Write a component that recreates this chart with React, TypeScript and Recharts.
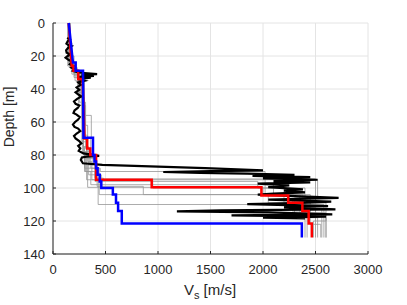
import { LineChart, Line, XAxis, YAxis, CartesianGrid } from 'recharts';

// Vs profiles vs depth
const xTicks = [0, 500, 1000, 1500, 2000, 2500, 3000];
const yTicks = [0, 20, 40, 60, 80, 100, 120, 140];
const bottomDepth = 130;

// [Vs m/s, depth m]
const bluePts = [
  [150, 0], [190, 24], [216, 24], [216, 29], [286, 29], [290, 69.5], [381, 69.5], [381, 80],
  [395, 80], [395, 84], [410, 84], [410, 88], [425, 88], [425, 92], [445, 92], [445, 96],
  [460, 96], [460, 100], [570, 100], [570, 104], [600, 104], [600, 109], [620, 109], [620, 114],
  [655, 114], [655, 121.5], [2370, 121.5], [2370, 130],
];

const redPts = [
  [150, 0], [178, 26], [195, 26], [195, 29], [240, 29], [240, 34], [282, 34], [300, 70],
  [325, 70], [325, 76], [355, 76], [355, 80], [410, 80], [410, 95], [940, 95], [940, 99.6],
  [1985, 99.6], [1985, 104.5], [2240, 104.5], [2240, 109], [2375, 109], [2375, 114],
  [2435, 114], [2435, 121.5], [2465, 121.5], [2465, 130],
];

const blackPts = [
  [135, 9], [160, 10], [140, 11], [128, 12.5], [150, 13.5], [175, 14], [145, 15], [125, 16.5],
  [130, 18], [165, 19], [140, 20], [120, 21], [150, 22.5], [185, 23.5], [160, 25], [195, 26],
  [175, 27], [210, 28], [190, 29], [240, 30], [420, 31], [270, 31.5], [390, 32], [250, 32.6],
  [360, 33.2], [240, 34], [300, 35], [240, 36], [265, 37.5], [225, 39], [250, 40.5], [215, 42],
  [245, 43.5], [270, 44.5], [230, 46], [200, 47.5], [215, 49], [250, 50], [235, 51.5], [205, 53],
  [195, 54.5], [225, 55.5], [255, 57], [240, 58.5], [210, 60], [190, 61.5], [205, 63], [240, 64],
  [260, 65.5], [225, 67], [200, 68.5], [215, 70], [250, 71.5], [270, 73], [240, 74.5], [260, 76],
  [245, 77.5], [290, 79], [440, 80.5], [320, 81], [275, 81.5], [265, 83], [285, 85],
  [470, 86], [1000, 87], [1450, 88], [2000, 89.3], [1500, 89.8], [1050, 90.3], [1400, 90.8],
  [1850, 91.3], [2300, 92], [1900, 92.6], [2450, 93.4], [2000, 94.2], [2520, 95], [2100, 95.8],
  [2450, 96.6], [1950, 97.4], [2250, 98.4], [2050, 99.5], [2380, 100.8], [2200, 101.6],
  [2400, 102.6], [2100, 103.4], [1950, 104], [2720, 106], [2350, 106.6], [2050, 107],
  [2650, 108.3], [2300, 109.2], [1850, 109.8], [2620, 111], [2200, 111.8], [2690, 113],
  [1600, 113.6], [1180, 114.2], [2050, 114.8], [2660, 116], [1700, 116.6], [2600, 117.3],
  [2000, 117.9], [2400, 118.5],
];

// gray layered models: [Vs, layer top depth]
const gray1 = [[150, 0], [195, 24], [250, 29], [285, 36], [300, 55], [360, 70], [450, 88], [2020, 90], [2380, 104], [2500, 112]];
const gray2 = [[160, 0], [180, 12], [230, 27], [270, 34], [310, 50], [330, 62], [300, 75], [400, 82], [480, 94], [2520, 95], [2300, 106], [2420, 118]];
const gray3 = [[140, 0], [200, 26], [260, 31], [300, 45], [365, 56], [320, 70], [380, 80], [330, 86], [2000, 99.6], [2250, 104], [2580, 110]];
const gray4 = [[155, 0], [175, 18], [215, 25], [280, 30], [290, 65], [350, 78], [420, 85], [860, 99], [2350, 104], [2600, 115]];
const gray5 = [[150, 0], [190, 22], [240, 30], [275, 40], [320, 72], [300, 80], [400, 90], [1950, 96], [2200, 100], [2450, 109], [2550, 122]];
const gray6 = [[145, 0], [170, 15], [210, 28], [300, 35], [285, 60], [340, 75], [460, 92], [2500, 94.5], [2280, 108], [2400, 114]];
const gray7 = [[165, 0], [200, 20], [250, 33], [310, 48], [300, 76], [440, 88], [2050, 104], [2600, 109], [2480, 120]];
const gray8 = [[150, 0], [185, 25], [235, 28], [290, 42], [330, 68], [370, 84], [950, 95], [2400, 100], [2300, 112], [2520, 118]];
const gray9 = [[145, 0], [180, 20], [245, 31], [280, 50], [310, 78], [360, 90], [2100, 98], [2450, 104], [2600, 116]];
const gray10 = [[155, 0], [205, 27], [275, 32], [300, 58], [290, 70], [320, 80], [430, 95], [2260, 110], [2560, 113]];

const grays = [gray1, gray2, gray3, gray4, gray5, gray6, gray7, gray8, gray9, gray10];

const toPoints = (pts: number[][]) => pts.map(([v, d]) => ({ v, d }));

const toSteps = (layers: number[][]) => {
  const out: { v: number; d: number }[] = [];
  layers.forEach(([v, top], i) => {
    const bot = i < layers.length - 1 ? layers[i + 1][1] : bottomDepth;
    out.push({ v, d: top }, { v, d: bot });
  });
  return out;
};

const FONT = '"Liberation Sans", Arial, Helvetica, sans-serif';
const INK = '#262626';

const XTick = ({ x, y, payload }: any) => (
  <g>
    <line x1={x} y1={y} x2={x} y2={y - 3} stroke={INK} />
    <text x={x} y={y + 20} textAnchor="middle" fontSize={13} fill={INK} fontFamily={FONT}>
      {payload.value}
    </text>
  </g>
);

const YTick = ({ x, y, payload }: any) => (
  <g>
    <line x1={x} y1={y} x2={x + 3} y2={y} stroke={INK} />
    <text x={x - 8} y={y + 4.5} textAnchor="end" fontSize={13} fill={INK} fontFamily={FONT}>
      {payload.value}
    </text>
  </g>
);

const XLabel = () => (
  <text x={210} y={295} textAnchor="middle" fontSize={15} fill={INK} fontFamily={FONT}>
    <tspan>V</tspan>
    <tspan fontSize={11} dy={4}>s</tspan>
    <tspan dy={-4}> [m/s]</tspan>
  </text>
);

const YLabel = () => (
  <text
    x={14}
    y={117}
    transform="rotate(-90 14 117)"
    textAnchor="middle"
    fontSize={14}
    fill={INK}
    fontFamily={FONT}
  >
    Depth [m]
  </text>
);

export default function App() {
  return (
    <div style={{ position: 'absolute', left: 0, top: 0, width: 407, height: 305, background: '#fff' }}>
      <LineChart width={407} height={305} margin={{ top: 23, right: 39, bottom: 0, left: 0 }}>
        <CartesianGrid stroke="#e4e4e4" />
        <XAxis
          type="number"
          dataKey="v"
          domain={[0, 3000]}
          ticks={xTicks}
          interval={0}
          height={51}
          tickSize={0}
          tickMargin={0}
          tickLine={false}
          axisLine={{ stroke: INK }}
          tick={<XTick />}
          label={{ content: () => <XLabel /> }}
        />
        <YAxis
          type="number"
          domain={[0, 140]}
          ticks={yTicks}
          interval={0}
          reversed
          width={53}
          tickSize={0}
          tickMargin={0}
          tickLine={false}
          axisLine={{ stroke: INK }}
          tick={<YTick />}
          label={{ content: () => <YLabel /> }}
        />
        {grays.map((g, i) => (
          <Line
            key={`g${i}`}
            data={toSteps(g)}
            dataKey="d"
            type="linear"
            stroke="#979797"
            strokeOpacity={0.8}
            strokeWidth={1}
            dot={false}
            activeDot={false}
            isAnimationActive={false}
          />
        ))}
        <Line data={toPoints(blackPts)} dataKey="d" type="linear" stroke="#000" strokeWidth={2.2} dot={false} activeDot={false} isAnimationActive={false} />
        <Line data={toPoints(redPts)} dataKey="d" type="linear" stroke="#ff0000" strokeWidth={2.5} dot={false} activeDot={false} isAnimationActive={false} />
        <Line data={toPoints(bluePts)} dataKey="d" type="linear" stroke="#0000ff" strokeWidth={2.5} dot={false} activeDot={false} isAnimationActive={false} />
      </LineChart>
    </div>
  );
}
